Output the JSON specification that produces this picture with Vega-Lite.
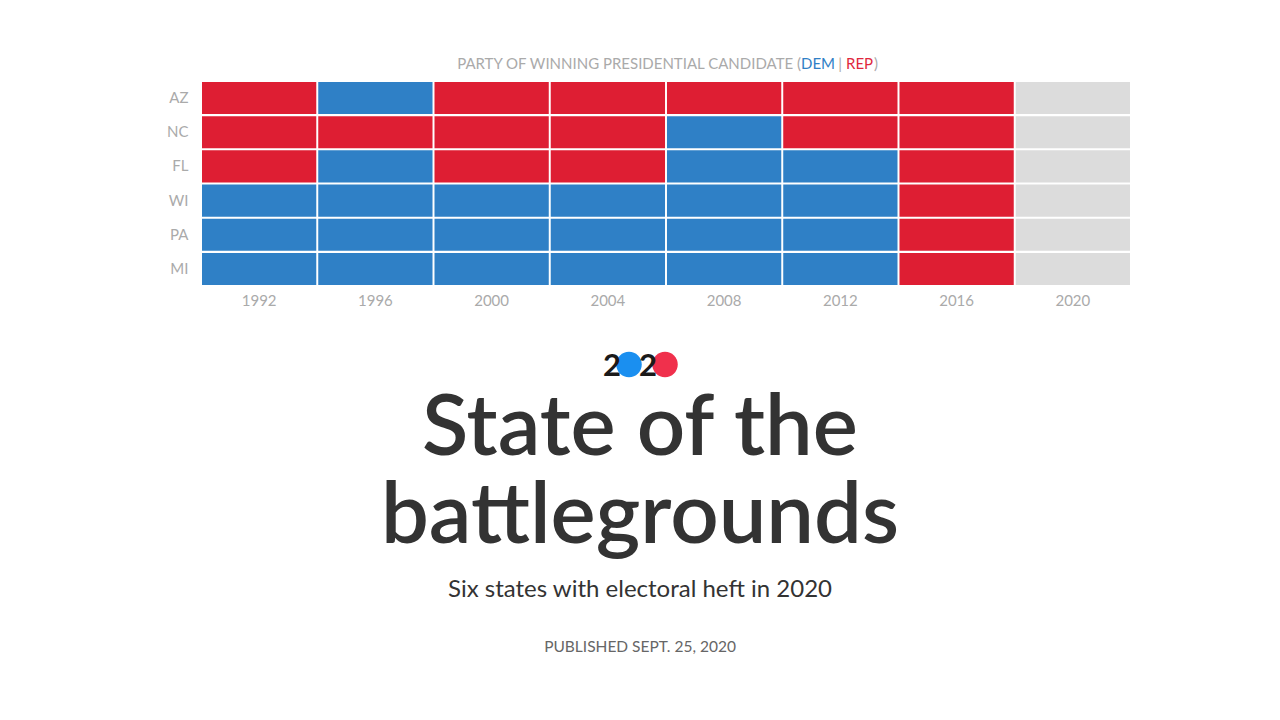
{
  "$schema": "https://vega.github.io/schema/vega-lite/v6.json",
  "autosize": {"type": "none"},
  "width": 928,
  "height": 203,
  "padding": {"left": 202, "top": 82, "right": 150, "bottom": 435},
  "background": "white",
  "config": {
    "view": {"stroke": null},
    "font": "Lato",
    "axis": {"labelFont": "Lato", "labelColor": "#aaaaaa", "labelFontSize": 15, "ticks": false, "domain": false, "grid": false, "title": null}
  },
  "layer": [
    {
      "data": {"values": [
        {"state": "AZ", "year": "1992", "party": "R"}, {"state": "AZ", "year": "1996", "party": "D"}, {"state": "AZ", "year": "2000", "party": "R"}, {"state": "AZ", "year": "2004", "party": "R"}, {"state": "AZ", "year": "2008", "party": "R"}, {"state": "AZ", "year": "2012", "party": "R"}, {"state": "AZ", "year": "2016", "party": "R"}, {"state": "AZ", "year": "2020", "party": "TBD"},
        {"state": "NC", "year": "1992", "party": "R"}, {"state": "NC", "year": "1996", "party": "R"}, {"state": "NC", "year": "2000", "party": "R"}, {"state": "NC", "year": "2004", "party": "R"}, {"state": "NC", "year": "2008", "party": "D"}, {"state": "NC", "year": "2012", "party": "R"}, {"state": "NC", "year": "2016", "party": "R"}, {"state": "NC", "year": "2020", "party": "TBD"},
        {"state": "FL", "year": "1992", "party": "R"}, {"state": "FL", "year": "1996", "party": "D"}, {"state": "FL", "year": "2000", "party": "R"}, {"state": "FL", "year": "2004", "party": "R"}, {"state": "FL", "year": "2008", "party": "D"}, {"state": "FL", "year": "2012", "party": "D"}, {"state": "FL", "year": "2016", "party": "R"}, {"state": "FL", "year": "2020", "party": "TBD"},
        {"state": "WI", "year": "1992", "party": "D"}, {"state": "WI", "year": "1996", "party": "D"}, {"state": "WI", "year": "2000", "party": "D"}, {"state": "WI", "year": "2004", "party": "D"}, {"state": "WI", "year": "2008", "party": "D"}, {"state": "WI", "year": "2012", "party": "D"}, {"state": "WI", "year": "2016", "party": "R"}, {"state": "WI", "year": "2020", "party": "TBD"},
        {"state": "PA", "year": "1992", "party": "D"}, {"state": "PA", "year": "1996", "party": "D"}, {"state": "PA", "year": "2000", "party": "D"}, {"state": "PA", "year": "2004", "party": "D"}, {"state": "PA", "year": "2008", "party": "D"}, {"state": "PA", "year": "2012", "party": "D"}, {"state": "PA", "year": "2016", "party": "R"}, {"state": "PA", "year": "2020", "party": "TBD"},
        {"state": "MI", "year": "1992", "party": "D"}, {"state": "MI", "year": "1996", "party": "D"}, {"state": "MI", "year": "2000", "party": "D"}, {"state": "MI", "year": "2004", "party": "D"}, {"state": "MI", "year": "2008", "party": "D"}, {"state": "MI", "year": "2012", "party": "D"}, {"state": "MI", "year": "2016", "party": "R"}, {"state": "MI", "year": "2020", "party": "TBD"}
      ]},
      "mark": {"type": "rect"},
      "encoding": {
        "x": {"field": "year", "type": "ordinal", "scale": {"paddingInner": 0.017, "paddingOuter": 0}, "axis": {"labelAngle": 0, "labelPadding": 8}},
        "y": {"field": "state", "type": "nominal", "sort": ["AZ", "NC", "FL", "WI", "PA", "MI"], "scale": {"paddingInner": 0.06, "paddingOuter": 0}, "axis": {"labelPadding": 14}},
        "color": {"field": "party", "type": "nominal", "scale": {"domain": ["D", "R", "TBD"], "range": ["#2f80c6", "#de1e33", "#dcdcdc"]}, "legend": null}
      }
    },
    {
      "data": {"values": [{"t": "PARTY OF WINNING PRESIDENTIAL CANDIDATE ("}]},
      "mark": {"type": "text", "align": "right", "dx": 135, "dy": -120, "fontSize": 15, "color": "#aaaaaa"},
      "encoding": {"text": {"field": "t"}}
    },
    {
      "data": {"values": [{"t": "DEM"}]},
      "mark": {"type": "text", "align": "left", "dx": 135, "dy": -120, "fontSize": 15, "color": "#2f80c6"},
      "encoding": {"text": {"field": "t"}}
    },
    {
      "data": {"values": [{"t": "|"}]},
      "mark": {"type": "text", "align": "center", "dx": 174, "dy": -120, "fontSize": 15, "color": "#aaaaaa"},
      "encoding": {"text": {"field": "t"}}
    },
    {
      "data": {"values": [{"t": "REP"}]},
      "mark": {"type": "text", "align": "left", "dx": 180, "dy": -120, "fontSize": 15, "color": "#e0283d"},
      "encoding": {"text": {"field": "t"}}
    },
    {
      "data": {"values": [{"t": ")"}]},
      "mark": {"type": "text", "align": "left", "dx": 208, "dy": -120, "fontSize": 15, "color": "#aaaaaa"},
      "encoding": {"text": {"field": "t"}}
    },
    {
      "data": {"values": [{"party": "D"}]},
      "mark": {"type": "point", "shape": "circle", "filled": true, "opacity": 1, "size": 650, "color": "#1a8ff0", "xOffset": -37, "yOffset": 181},
      "encoding": {}
    },
    {
      "data": {"values": [{"party": "R"}]},
      "mark": {"type": "point", "shape": "circle", "filled": true, "opacity": 1, "size": 650, "color": "#f0304c", "xOffset": -1, "yOffset": 181},
      "encoding": {}
    },
    {
      "data": {"values": [{"t": "2"}]},
      "mark": {"type": "text", "align": "center", "baseline": "alphabetic", "dx": -54, "dy": 192, "fontSize": 31, "fontWeight": "bold", "color": "#1a1a1a"},
      "encoding": {"text": {"field": "t"}}
    },
    {
      "data": {"values": [{"t": "2"}]},
      "mark": {"type": "text", "align": "center", "baseline": "alphabetic", "dx": -18, "dy": 192, "fontSize": 31, "fontWeight": "bold", "color": "#1a1a1a"},
      "encoding": {"text": {"field": "t"}}
    },
    {
      "data": {"values": [{"t": "State of the"}]},
      "mark": {"type": "text", "align": "center", "baseline": "alphabetic", "dx": -26, "dy": 271.5, "fontSize": 85, "fontWeight": 600, "color": "#333333"},
      "encoding": {"text": {"field": "t"}}
    },
    {
      "data": {"values": [{"t": "battlegrounds"}]},
      "mark": {"type": "text", "align": "center", "baseline": "alphabetic", "dx": -26, "dy": 359, "fontSize": 85, "fontWeight": 600, "color": "#333333"},
      "encoding": {"text": {"field": "t"}}
    },
    {
      "data": {"values": [{"t": "Six states with electoral heft in 2020"}]},
      "mark": {"type": "text", "align": "center", "baseline": "alphabetic", "dx": -26, "dy": 413.5, "fontSize": 24, "color": "#333333"},
      "encoding": {"text": {"field": "t"}}
    },
    {
      "data": {"values": [{"t": "PUBLISHED SEPT. 25, 2020"}]},
      "mark": {"type": "text", "align": "center", "baseline": "alphabetic", "dx": -26, "dy": 468.5, "fontSize": 15.5, "color": "#666666"},
      "encoding": {"text": {"field": "t"}}
    }
  ]
}
